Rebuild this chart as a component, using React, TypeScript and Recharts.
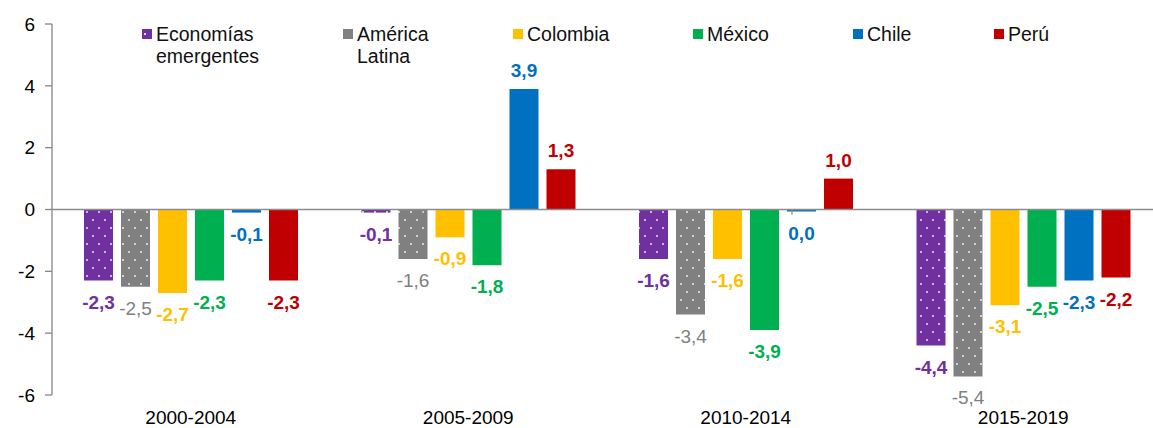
import React from "react";
import { Bar, BarChart, LabelList, ReferenceLine, XAxis, YAxis } from "recharts";

const FONT = '"Liberation Sans", Arial, sans-serif';

const PERIODS = ["2000-2004", "2005-2009", "2010-2014", "2015-2019"];
const EMERGENTES = [-2.3, -0.1, -1.6, -4.4];
const AMERICA_LATINA = [-2.5, -1.6, -3.4, -5.4];
const COLOMBIA = [-2.7, -0.9, -1.6, -3.1];
const MEXICO = [-2.3, -1.8, -3.9, -2.5];
const CHILE = [-0.1, 3.9, 0.0, -2.3];
const PERU = [-2.3, 1.3, 1.0, -2.2];
const Y_TICKS = [-6, -4, -2, 0, 2, 4, 6];
// category boundaries on the zero line
const BOUNDARIES = [1, 2, 3];

type Serie = {
  key: string;
  label: string;
  values: number[];
  color: string;
  dotted: boolean;
  bold: boolean;
  legendX: number;
};

const SERIES: Serie[] = [
  { key: "emergentes", label: "Economías emergentes", values: EMERGENTES, color: "#7030A0", dotted: true, bold: true, legendX: 142 },
  { key: "latam", label: "América Latina", values: AMERICA_LATINA, color: "#808080", dotted: true, bold: false, legendX: 343 },
  { key: "colombia", label: "Colombia", values: COLOMBIA, color: "#FFC000", dotted: false, bold: true, legendX: 513 },
  { key: "mexico", label: "México", values: MEXICO, color: "#00B050", dotted: false, bold: true, legendX: 693 },
  { key: "chile", label: "Chile", values: CHILE, color: "#0070C0", dotted: false, bold: true, legendX: 853 },
  { key: "peru", label: "Perú", values: PERU, color: "#C00000", dotted: false, bold: true, legendX: 994 },
];

const data = PERIODS.map((period, i) => {
  const row: Record<string, string | number> = { period };
  for (const s of SERIES) row[s.key] = s.values[i];
  return row;
});

const fmt = (v: number) => v.toFixed(1).replace(".", ",");

const makeLabel = (s: Serie) => (props: any) => {
  const x = Number(props.x);
  const y = Number(props.y);
  const w = Number(props.width);
  const h = Number(props.height);
  const v = Number(props.value);
  const top = Math.min(y, y + h);
  const bottom = Math.max(y, y + h);
  const baseline = v > 0 ? top - 12 : bottom + 28;
  return (
    <text
      x={x + w / 2}
      y={baseline}
      textAnchor="middle"
      fill={s.color}
      fontSize={19}
      fontWeight={s.bold ? 700 : 400}
      fontFamily={FONT}
    >
      {fmt(v)}
    </text>
  );
};

function ChartLegend() {
  return (
    <div style={{ position: "absolute", left: 0, top: 0, width: 1153, height: 70 }}>
      {SERIES.map((s) => (
        <div key={s.key} style={{ position: "absolute", left: s.legendX, top: 23 }}>
          <svg width={10} height={10} style={{ position: "absolute", left: 0, top: 6 }}>
            <rect width={10} height={10} fill={s.color} />
            {s.key === "emergentes" && <rect x={2} y={4} width={2} height={2} fill="#fff" opacity={0.8} />}
          </svg>
          <div
            style={{
              position: "absolute",
              left: 14,
              top: 0,
              width: 122,
              fontSize: 19.5,
              lineHeight: "22px",
              color: "#111",
              fontFamily: FONT,
            }}
          >
            {s.label}
          </div>
        </div>
      ))}
    </div>
  );
}

export default function App() {
  return (
    <div
      style={{
        position: "absolute",
        left: 0,
        top: 0,
        width: 1153,
        height: 428,
        overflow: "hidden",
        background: "#fff",
        fontFamily: FONT,
      }}
    >
      <BarChart
        width={1172}
        height={428}
        data={data}
        margin={{ top: 24, right: 10, bottom: 0, left: 0 }}
        barCategoryGap={32}
        barGap={8}
      >
        <defs>
          {SERIES.filter((s) => s.dotted).map((s) => (
            <pattern key={s.key} id={`dots-${s.key}`} patternUnits="userSpaceOnUse" width={12} height={16}>
              <rect width={12} height={16} fill={s.color} />
              <circle cx={3} cy={4} r={1} fill="#fff" opacity={0.85} />
              <circle cx={9} cy={12} r={1} fill="#fff" opacity={0.85} />
            </pattern>
          ))}
        </defs>
        <XAxis
          dataKey="period"
          axisLine={false}
          tickLine={false}
          tickSize={0}
          tickMargin={16}
          height={33}
          tick={{ fontSize: 19, fill: "#000", fontFamily: FONT }}
        />
        <XAxis xAxisId="grid" type="number" domain={[0, 4]} allowDataOverflow hide />
        <YAxis
          width={52}
          domain={[-6, 6]}
          ticks={Y_TICKS}
          interval={0}
          tickSize={7}
          tickMargin={10}
          axisLine={{ stroke: "#868686", strokeWidth: 1.3 }}
          tickLine={{ stroke: "#868686", strokeWidth: 1.3 }}
          tick={{ fontSize: 19, fill: "#000", fontFamily: FONT }}
        />
        {SERIES.map((s) => (
          <Bar
            key={s.key}
            dataKey={s.key}
            fill={s.dotted ? `url(#dots-${s.key})` : s.color}
            minPointSize={(v: number) => (v === 0 ? -2 : 0)}
            isAnimationActive={false}
          >
            <LabelList dataKey={s.key} content={makeLabel(s)} />
          </Bar>
        ))}
        <ReferenceLine y={0} stroke="#8c8c8c" strokeWidth={1.5} />
        {BOUNDARIES.map((b) => (
          <ReferenceLine
            key={b}
            xAxisId="grid"
            segment={[
              { x: b, y: 0 },
              { x: b, y: -0.17 },
            ]}
            stroke="#8c8c8c"
            strokeWidth={1.3}
          />
        ))}
      </BarChart>
      <ChartLegend />
    </div>
  );
}
